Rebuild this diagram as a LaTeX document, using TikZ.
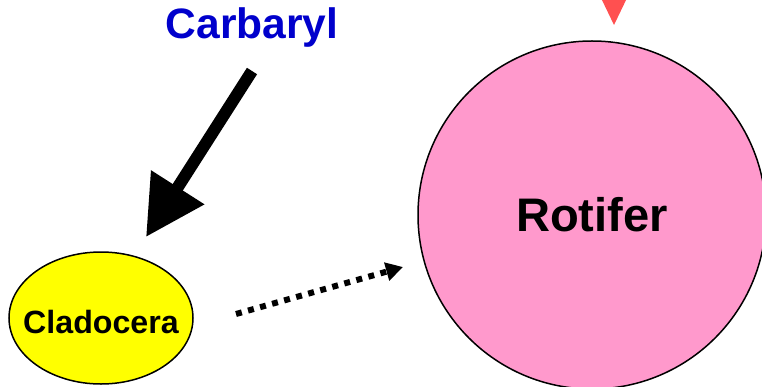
\documentclass[tikz,border=0pt]{standalone}
\usepackage{fontspec}
\setmainfont{Liberation Sans}
\usetikzlibrary{shapes.geometric, arrows.meta}
\definecolor{rotpink}{HTML}{FF99CC}
\definecolor{cladyellow}{HTML}{FFFF00}
\definecolor{carbblue}{HTML}{0000CC}
\definecolor{markred}{HTML}{FF5050}
\tikzset{
  bigarrow/.style={line width=2.4mm, -{Triangle[length=11.8mm, width=12mm]}},
  dotarrow/.style={line width=1.2mm, dash pattern=on 1.2mm off 1.3mm, -{Triangle[length=3.4mm, width=3.6mm]}},
  rotnode/.style={circle, draw, line width=0.3mm, fill=rotpink, minimum size=69.6mm},
  cladnode/.style={ellipse, draw, line width=0.3mm, fill=cladyellow, minimum width=36.8mm, minimum height=26.4mm, inner sep=0pt}
}
\begin{document}
\begin{tikzpicture}[x=0.2mm, y=-0.2mm]
  \useasboundingbox (0,0) rectangle (762,386);
  \clip (0,0) rectangle (762,386);
  % the species
  \node (rotifer) at (592,215) [rotnode, font=\bfseries\fontsize{26.8}{30}\selectfont] {Rotifer};
  \node (clad) at (101,318) [cladnode, label={[font=\bfseries\fontsize{18.3}{22}\selectfont, yshift=-0.8mm]center:Cladocera}] {};
  \node (carbaryl) at (252,28) [text=carbblue, font=\bfseries\fontsize{24.2}{28}\selectfont] {Carbaryl};
  % arrows
  \coordinate (carbtail) at (252,71);
  \coordinate (cladtip) at (146,237);
  \coordinate (dottail) at (236,314);
  \coordinate (dottip) at (403,267);
  \draw[bigarrow] (carbtail) -- (cladtip);
  \draw[dotarrow] (dottail) -- (dottip);
  % top marker
  \fill[markred] (601,-2) -- (627,-2) -- (614,25) -- cycle;
\end{tikzpicture}
\end{document}
